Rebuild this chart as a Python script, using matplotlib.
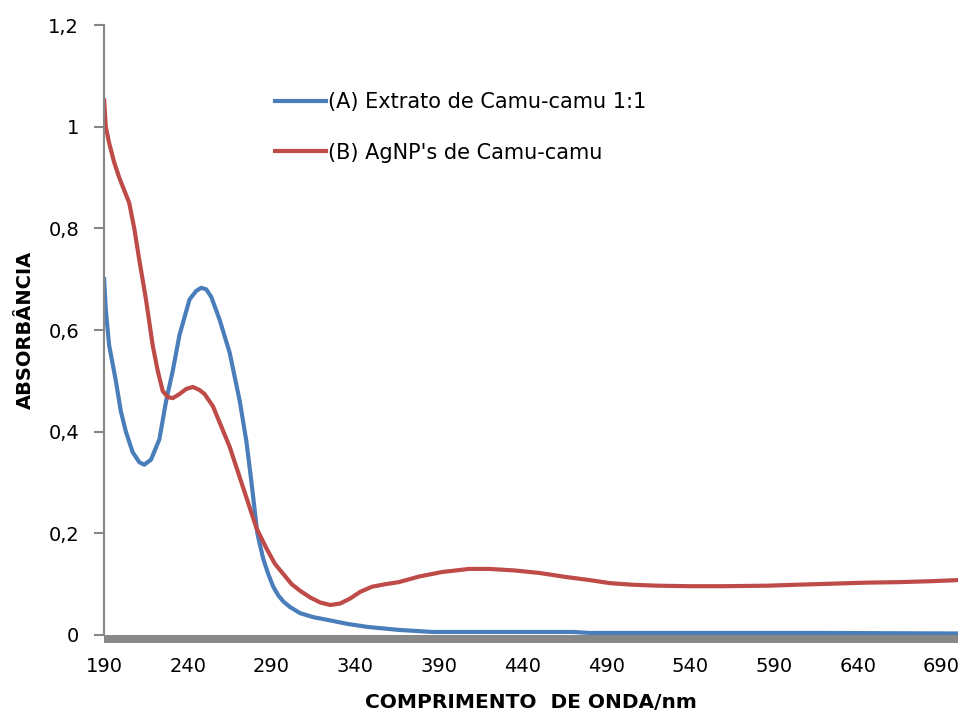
import matplotlib
matplotlib.use("Agg")
import matplotlib.pyplot as plt
from matplotlib.patches import Rectangle

# --- dados ---
wl_a = [190, 191, 193, 197, 200, 203, 207, 211, 214, 218, 223, 227, 231, 235,
        241, 245, 248, 251, 254, 259, 265, 271, 275, 278, 281.5, 285, 288, 291,
        294, 297, 301, 307, 315, 323, 335, 347, 366, 386, 420, 470, 480, 550,
        620, 700]
abs_a = [0.70, 0.64, 0.57, 0.50, 0.44, 0.40, 0.36, 0.34, 0.335, 0.345, 0.385,
         0.46, 0.52, 0.59, 0.66, 0.677, 0.683, 0.68, 0.665, 0.62, 0.555, 0.46,
         0.38, 0.30, 0.20, 0.15, 0.12, 0.095, 0.078, 0.066, 0.055, 0.043, 0.035,
         0.03, 0.022, 0.016, 0.01, 0.006, 0.006, 0.006, 0.004, 0.004, 0.004,
         0.003]

wl_b = [190, 191, 193, 196, 199, 202, 205, 208, 211, 215, 219, 222, 225, 228,
        231, 235, 239, 243, 247, 250, 255, 260, 265, 270, 276, 281, 287, 292,
        297, 302, 307, 313, 319, 325, 331, 337, 343, 350, 358, 366, 378, 392,
        408, 420, 435, 450, 466, 480, 492, 505, 520, 540, 560, 586, 605, 625,
        645, 665, 685, 700]
abs_b = [1.052, 1.0, 0.968, 0.93, 0.90, 0.875, 0.85, 0.80, 0.738, 0.66, 0.57,
         0.52, 0.48, 0.468, 0.466, 0.474, 0.484, 0.488, 0.482, 0.474, 0.45, 0.41,
         0.37, 0.32, 0.26, 0.21, 0.17, 0.14, 0.12, 0.10, 0.087, 0.074, 0.064,
         0.059, 0.062, 0.072, 0.085, 0.095, 0.10, 0.104, 0.115, 0.124, 0.13,
         0.13, 0.127, 0.122, 0.114, 0.108, 0.102, 0.099, 0.097, 0.096, 0.096,
         0.097, 0.099, 0.101, 0.103, 0.104, 0.106, 0.108]

x_ticks = [190, 240, 290, 340, 390, 440, 490, 540, 590, 640, 690]
y_ticks = [0, 0.2, 0.4, 0.6, 0.8, 1.0, 1.2]
y_labels = ["0", "0,2", "0,4", "0,6", "0,8", "1", "1,2"]
labels = ["(A) Extrato de Camu-camu 1:1", "(B) AgNP's de Camu-camu"]

fig = plt.figure(figsize=(9.64, 7.13), dpi=100)
ax = fig.add_axes([0.108, 0.1094, 0.886, 0.8555])

ax.plot(wl_a, abs_a, color="#4A7EBB", lw=3, solid_joinstyle="round", label=labels[0])
ax.plot(wl_b, abs_b, color="#BE4B48", lw=3, solid_joinstyle="round", label=labels[1])

ax.set_xlim(190, 700)
ax.set_ylim(0, 1.2)
ax.set_xticks(x_ticks)
ax.set_yticks(y_ticks)
ax.set_yticklabels(y_labels)

for s in ["top", "right", "bottom"]:
    ax.spines[s].set_visible(False)
ax.spines["left"].set_color("#868686")
ax.spines["left"].set_linewidth(1.5)

ax.tick_params(axis="y", colors="#868686", labelcolor="black", length=7, width=1.5,
               pad=11, labelsize=14)
ax.tick_params(axis="x", length=0, pad=16, labelsize=14)

# barra cinza sob o eixo x (estilo Excel)
ax.add_patch(Rectangle((0, -0.013), 1, 0.013, transform=ax.transAxes,
                       clip_on=False, color="#888888", lw=0))

ax.set_ylabel("ABSORBÂNCIA", fontsize=14, fontweight="bold")
ax.yaxis.label.set_va("center")
ax.yaxis.set_label_coords(-0.0925, 0.5)
ax.set_xlabel("COMPRIMENTO  DE ONDA/nm", fontsize=14.5, fontweight="bold")
ax.xaxis.label.set_va("center")
ax.xaxis.set_label_coords(0.5, -0.11)

ax.legend(loc="center left", bbox_to_anchor=(0.2, 0.832), frameon=False,
          fontsize=15, handlelength=2.45, handletextpad=0.1, labelspacing=1.45,
          borderpad=0, borderaxespad=0)

fig.savefig("out.png", dpi=100)
